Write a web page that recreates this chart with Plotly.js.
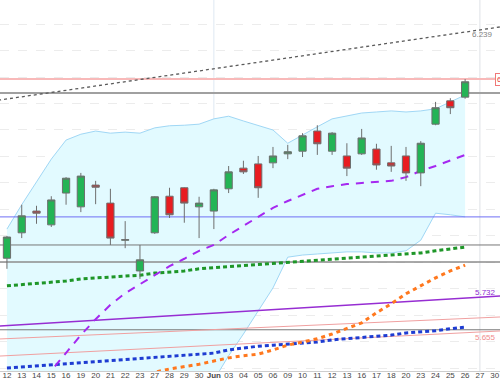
<!DOCTYPE html>
<html><head><meta charset="utf-8">
<script src="https://cdn.plot.ly/plotly-3.0.1.min.js"></script>
<style>html,body{margin:0;padding:0;background:#fff}#chart{width:500px;height:383px}</style>
</head><body><div id="chart"></div>
<script>
// Session labels (trading days, May 12 -> Jun 30)
const tickLabels = ['12','13','14','15','16','19','20','21','22','23','27','28','29','30','<b>Jun</b>','03','04','05','06','09','10','11','12','13','16','17','18','20','23','24','25','26','27','30'];
// OHLC for the 32 sessions drawn (May 12 -> Jun 26)
const open  = [5.808,5.856,5.897,5.871,5.931,5.905,5.946,5.912,5.842,5.784,5.856,5.925,5.941,5.905,5.897,5.939,5.978,5.986,5.988,6.005,6.010,6.048,6.010,6.001,6.005,6.014,5.988,6.001,5.969,6.061,6.105,6.112];
const high  = [5.850,5.909,5.907,5.925,5.961,5.969,5.954,5.939,5.878,5.833,5.925,5.941,5.942,5.924,5.939,5.982,5.992,6.001,6.018,6.022,6.044,6.059,6.046,6.025,6.052,6.024,6.020,6.018,6.029,6.103,6.110,6.146];
const low   = [5.788,5.846,5.873,5.867,5.909,5.895,5.910,5.833,5.827,5.769,5.854,5.884,5.875,5.846,5.863,5.931,5.967,5.922,5.978,5.995,5.999,6.003,6.003,5.963,6.003,5.975,5.971,5.954,5.944,6.059,6.080,6.109];
const close = [5.848,5.888,5.893,5.918,5.959,5.963,5.942,5.846,5.843,5.805,5.924,5.890,5.912,5.912,5.937,5.971,5.971,5.941,6.001,6.009,6.039,6.024,6.044,5.978,6.035,5.984,5.982,5.969,6.025,6.092,6.092,6.141];
// Bollinger bands
const bbUpper = [5.863,5.909,5.952,5.995,6.031,6.042,6.048,6.044,6.046,6.044,6.054,6.058,6.059,6.061,6.071,6.076,6.067,6.058,6.050,6.025,6.041,6.056,6.071,6.076,6.082,6.084,6.086,6.084,6.086,6.090,6.103,6.116];
const bbLower = [5.410,5.390,5.370,5.360,5.360,5.370,5.380,5.390,5.410,5.430,5.460,5.480,5.510,5.540,5.578,5.624,5.665,5.708,5.752,5.810,5.814,5.816,5.818,5.820,5.820,5.818,5.818,5.822,5.842,5.893,5.890,5.886];
// Moving averages
const maPurple = [5.495,5.529,5.563,5.597,5.631,5.663,5.693,5.720,5.742,5.759,5.776,5.793,5.807,5.822,5.833,5.852,5.869,5.886,5.903,5.916,5.927,5.939,5.944,5.948,5.950,5.952,5.954,5.961,5.973,5.982,5.993,6.003];
const maGreen  = [5.756,5.758,5.761,5.763,5.765,5.769,5.771,5.773,5.775,5.776,5.780,5.782,5.784,5.788,5.790,5.793,5.795,5.797,5.799,5.801,5.803,5.805,5.807,5.808,5.810,5.812,5.814,5.816,5.818,5.822,5.825,5.829];
const maOrange = [5.550,5.556,5.559,5.563,5.567,5.571,5.576,5.580,5.586,5.590,5.593,5.599,5.603,5.608,5.614,5.620,5.624,5.627,5.635,5.644,5.650,5.656,5.665,5.675,5.686,5.705,5.722,5.741,5.756,5.771,5.784,5.795];
const maBlue   = [5.601,5.603,5.605,5.607,5.608,5.610,5.612,5.614,5.616,5.618,5.620,5.622,5.624,5.627,5.629,5.635,5.639,5.642,5.644,5.646,5.648,5.650,5.654,5.656,5.658,5.661,5.663,5.667,5.669,5.671,5.675,5.678];
// Horizontal levels
const levels      = [6.146, 6.120, 5.886, 5.833, 5.801, 5.673];
const levelColors = ['rgb(248,185,185)','rgb(160,160,160)','rgb(110,110,245)','rgb(120,120,120)','rgb(140,140,140)','rgb(120,120,120)'];
const levelWidths = [2, 2, 1, 1, 1.5, 1];
// Trend lines: [value at start, value at end]
const trendBlack  = [6.1045, 6.2470];
const trendPurple = [5.6792, 5.7379];
const trendPink1  = [5.6550, 5.6979];
const trendPink2  = [5.6227, 5.6716];
const trendSpan   = [-1, 34];
const lineLabels  = ['6.239','5.732','5.655'];

const YR = [5.5952, 6.2953];
const xs = open.map((_, i) => i);
const traces = [];
traces.push({type:'scatter', mode:'lines', x:xs, y:bbLower, line:{color:'rgb(160,215,245)', width:1}, hoverinfo:'skip'});
traces.push({type:'scatter', mode:'lines', x:xs, y:bbUpper, fill:'tonexty', fillcolor:'rgb(226,250,255)', line:{color:'rgb(160,215,245)', width:1}, hoverinfo:'skip'});
levels.forEach((v, k) => traces.push({type:'scatter', mode:'lines', x:trendSpan, y:[v, v], line:{color:levelColors[k], width:levelWidths[k]}, hoverinfo:'skip'}));
traces.push({type:'scatter', mode:'lines', x:trendSpan, y:trendPink1, line:{color:'rgb(240,160,160)', width:1}});
traces.push({type:'scatter', mode:'lines', x:trendSpan, y:trendPink2, line:{color:'rgb(240,160,160)', width:1}});
traces.push({type:'scatter', mode:'lines', x:trendSpan, y:trendPurple, line:{color:'rgb(150,45,210)', width:1.5}});
traces.push({type:'scatter', mode:'lines', x:trendSpan, y:trendBlack, line:{color:'rgb(90,90,90)', width:1.3, dash:'3px,3px'}});
traces.push({type:'scatter', mode:'lines', x:xs, y:maBlue, line:{color:'rgb(30,60,210)', width:3, dash:'4px,3px'}});
traces.push({type:'scatter', mode:'lines', x:xs, y:maOrange, line:{color:'rgb(255,120,30)', width:3, dash:'4px,4px'}});
traces.push({type:'scatter', mode:'lines', x:xs, y:maGreen, line:{color:'rgb(30,150,40)', width:3, dash:'4px,3px'}});
traces.push({type:'scatter', mode:'lines', x:xs, y:maPurple, line:{color:'rgb(165,40,240)', width:2, dash:'8px,7px'}});
traces.push({type:'candlestick', x:xs, open:open, high:high, low:low, close:close, yaxis:'y2',
  increasing:{line:{color:'rgb(110,110,110)', width:1}, fillcolor:'rgb(35,180,85)'},
  decreasing:{line:{color:'rgb(110,110,110)', width:1}, fillcolor:'rgb(232,28,32)'},
  whiskerwidth:0});

const layout = {
  width:500, height:383, margin:{l:0, r:0, t:0, b:12},
  paper_bgcolor:'#fff', plot_bgcolor:'#fff', showlegend:false, boxgap:0.3,
  xaxis:{range:[-0.47, 33.36], tickvals:tickLabels.map((_, i) => i), ticktext:tickLabels,
    tickangle:0, showgrid:false, zeroline:false, showline:true, linecolor:'rgb(205,205,205)', linewidth:1,
    ticks:'', ticklabelstandoff:-4, tickfont:{family:'Liberation Sans, Arial', size:8, color:'rgb(70,70,70)'},
    rangeslider:{visible:false}, fixedrange:true},
  yaxis:{range:YR, dtick:0.05, tick0:6.25, showticklabels:false, zeroline:false,
    showgrid:true, gridcolor:'rgb(236,236,236)', griddash:'dash', gridwidth:1},
  yaxis2:{range:YR, overlaying:'y', showticklabels:false, showgrid:false, zeroline:false},
  shapes:[
    {type:'line', xref:'x', yref:'paper', x0:14, x1:14, y0:0, y1:1, line:{color:'rgb(222,232,242)', width:1}, layer:'below'},
    {type:'line', xref:'x', yref:'paper', x0:32, x1:32, y0:0, y1:1, line:{color:'rgb(222,225,230)', width:1}, layer:'below'}
  ],
  annotations:[
    {x:32.2, y:6.231, xref:'x', yref:'y', text:lineLabels[0], showarrow:false, font:{family:'Liberation Sans, Arial', size:8, color:'rgb(130,130,130)'}},
    {x:32.4, y:5.744, xref:'x', yref:'y', text:lineLabels[1], showarrow:false, font:{family:'Liberation Sans, Arial', size:8, color:'rgb(140,40,210)'}},
    {x:32.4, y:5.658, xref:'x', yref:'y', text:lineLabels[2], showarrow:false, font:{family:'Liberation Sans, Arial', size:8, color:'rgb(240,140,140)'}},
    {x:33.05, y:levels[0], xref:'x', yref:'y', xanchor:'left', text:String(levels[0]), showarrow:false, bgcolor:'#fff', bordercolor:'rgb(240,120,120)', borderwidth:1, borderpad:1, font:{family:'Liberation Sans, Arial', size:8, color:'rgb(230,60,60)'}}
  ]
};
Plotly.newPlot('chart', traces, layout, {staticPlot:true, displayModeBar:false});
</script></body></html>
